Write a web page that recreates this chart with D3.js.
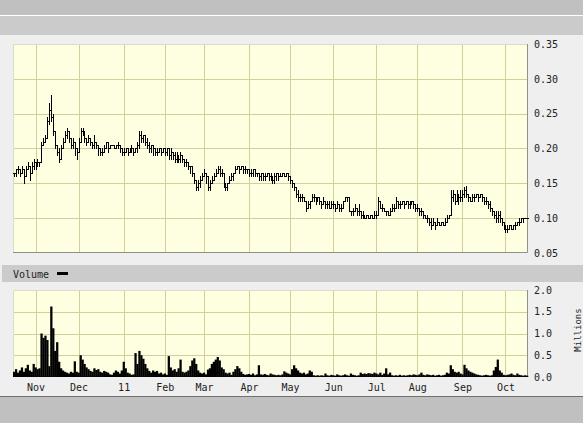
<!DOCTYPE html>
<html><head><meta charset="utf-8">
<script src="https://cdnjs.cloudflare.com/ajax/libs/d3/7.8.5/d3.min.js"></script>
<style>
body{margin:0;background:#c0c0c0;}
svg{display:block;font-family:"DejaVu Sans Mono",monospace;}
</style></head><body>
<script>
// daily bars, weekdays from 15 Oct 2010
var startDate = new Date(2010, 9, 15);

var closes = [
 .165,.17,.17,.165,.17,.16,.17,.175,.165,.175,.18,
 .175,.18,.18,.205,.21,.215,.24,.255,.245,.225,.205,.195,.185,.2,.21,.22,.225,.215,.205,.21,.2,.195,
 .21,.225,.225,.215,.21,.215,.21,.205,.21,.205,.2,.195,.195,.2,.21,.2,.205,.205,.2,.205,.205,.2,.195,
 .195,.2,.195,.195,.2,.195,.2,.205,.22,.215,.22,.21,.205,.2,.205,.2,.195,.195,.2,.195,.2,
 .195,.2,.19,.195,.19,.185,.19,.185,.19,.185,.18,.18,.175,.175,.165,.155,.145,.15,.155,.16,
 .165,.16,.145,.15,.155,.16,.165,.17,.165,.165,.15,.145,.15,.155,.16,.165,.17,.175,.17,.175,.17,.17,.17,
 .165,.165,.17,.165,.165,.16,.165,.16,.16,.165,.16,.16,.155,.16,.165,.16,.16,.165,.16,.165,.16,
 .155,.15,.145,.135,.13,.13,.13,.125,.115,.12,.125,.13,.13,.125,.13,.125,.12,.125,.12,.12,.115,.12,
 .12,.115,.12,.115,.115,.125,.13,.13,.11,.11,.11,.115,.11,.11,.105,.105,.1,.105,.1,.105,.1,.105,
 .105,.125,.115,.115,.11,.11,.105,.11,.115,.115,.125,.12,.12,.125,.12,.125,.12,.12,.125,.12,.115,
 .115,.11,.11,.105,.1,.1,.095,.09,.095,.09,.095,.09,.095,.09,.095,.1,.105,.13,.135,.125,.135,.13,.13,
 .135,.14,.135,.13,.125,.13,.13,.135,.13,.135,.13,.125,.125,.12,.115,.11,.105,.1,.105,.1,.095,.09,
 .085,.085,.09,.085,.09,.09,.095,.095,.1,.1,.1,.1
];
var highs = [
 .165,.17,.175,.17,.175,.17,.175,.18,.175,.18,.185,
 .18,.185,.18,.21,.215,.22,.245,.265,.277,.25,.225,.205,.2,.205,.215,.225,.23,.225,.215,.215,.21,.2,
 .215,.23,.23,.225,.215,.22,.215,.21,.22,.21,.205,.2,.2,.205,.21,.205,.205,.205,.205,.205,.21,.205,.2,
 .2,.2,.2,.2,.205,.2,.2,.21,.225,.225,.22,.22,.215,.21,.205,.205,.2,.2,.2,.2,.2,
 .2,.2,.2,.2,.195,.195,.195,.19,.195,.19,.185,.185,.18,.175,.17,.16,.155,.155,.16,.165,
 .17,.165,.155,.155,.16,.165,.17,.175,.175,.17,.16,.15,.15,.16,.165,.165,.175,.175,.175,.175,.175,.175,.17,
 .17,.17,.17,.17,.165,.165,.165,.165,.165,.165,.165,.165,.16,.165,.165,.165,.165,.165,.165,.165,.165,
 .16,.155,.15,.145,.14,.135,.135,.13,.125,.125,.125,.135,.135,.13,.13,.13,.125,.13,.125,.125,.125,.125,
 .125,.12,.125,.12,.12,.125,.13,.13,.115,.11,.115,.12,.115,.12,.11,.11,.105,.105,.105,.105,.105,.11,
 .11,.13,.125,.12,.115,.11,.11,.115,.12,.12,.13,.125,.125,.125,.125,.125,.125,.125,.125,.125,.12,
 .12,.115,.115,.11,.105,.105,.1,.1,.1,.095,.1,.095,.095,.095,.1,.105,.105,.14,.14,.135,.14,.135,.14,
 .14,.145,.146,.135,.13,.135,.135,.135,.135,.135,.135,.13,.13,.125,.125,.115,.11,.11,.11,.11,.1,.095,
 .09,.09,.09,.09,.09,.095,.095,.1,.1,.1,.1,.1
];
var lows = [
 .16,.16,.165,.16,.165,.15,.165,.17,.155,.17,.17,
 .17,.175,.175,.18,.205,.21,.215,.235,.24,.22,.2,.19,.18,.185,.2,.21,.215,.21,.2,.2,.19,.185,
 .195,.21,.22,.21,.205,.21,.205,.2,.2,.2,.19,.19,.19,.195,.2,.195,.2,.205,.2,.2,.2,.195,.19,
 .19,.195,.19,.195,.195,.19,.195,.195,.2,.21,.21,.205,.2,.195,.195,.19,.19,.19,.195,.19,.195,
 .19,.19,.185,.185,.185,.18,.18,.18,.18,.18,.175,.175,.17,.165,.16,.15,.14,.14,.145,.155,
 .16,.15,.14,.14,.15,.155,.16,.165,.16,.16,.145,.14,.14,.15,.155,.155,.165,.17,.165,.17,.165,.165,.165,
 .16,.16,.16,.16,.16,.155,.155,.155,.155,.16,.155,.155,.15,.15,.155,.155,.16,.16,.16,.16,.155,
 .15,.145,.14,.13,.125,.125,.125,.125,.11,.115,.115,.125,.125,.12,.125,.12,.115,.12,.115,.115,.115,.115,
 .115,.11,.115,.11,.11,.125,.13,.125,.11,.105,.105,.11,.105,.105,.1,.1,.1,.1,.1,.1,.1,.1,
 .1,.11,.115,.11,.11,.105,.105,.105,.11,.11,.115,.115,.115,.12,.115,.12,.115,.115,.12,.115,.11,
 .11,.105,.105,.1,.1,.095,.09,.085,.09,.085,.09,.09,.09,.09,.09,.095,.1,.105,.125,.12,.125,.12,.125,
 .125,.13,.13,.125,.125,.125,.125,.13,.125,.13,.125,.12,.12,.115,.11,.105,.1,.095,.095,.095,.09,.085,
 .08,.08,.085,.085,.085,.085,.09,.09,.095,.095,.1,.1
];
// millions of shares
var volumes = [
 .12,.18,.1,.15,.22,.12,.2,.28,.15,.12,
 .3,.22,.18,.2,1.0,.9,.95,.85,.25,1.62,
 1.12,.6,.8,.35,.2,.15,.12,.1,.08,.12,
 .1,.36,.12,.1,.5,.4,.3,.22,.18,.14,
 .12,.2,.16,.18,.12,.1,.14,.12,.1,.06,
 .05,.1,.15,.12,.08,.15,.35,.2,.1,.08,
 .05,.06,.55,.3,.6,.5,.42,.3,.2,.14,
 .1,.15,.12,.14,.08,.1,.06,.08,.05,.48,
 .22,.15,.18,.12,.2,.4,.12,.1,.12,.15,
 .25,.38,.43,.3,.15,.1,.08,.1,.06,.17,
 .2,.3,.35,.4,.46,.38,.22,.18,.1,.08,
 .1,.05,.12,.18,.25,.2,.12,.07,.05,.06,
 .07,.05,.08,.04,.06,.27,.06,.05,.07,.05,
 .04,.08,.06,.05,.04,.05,.04,.06,.13,.1,
 .08,.06,.18,.27,.2,.15,.1,.08,.1,.06,
 .08,.15,.12,.04,.03,.04,.03,.04,.03,.08,
 .04,.03,.05,.04,.03,.06,.04,.03,.04,.06,
 .04,.03,.08,.05,.04,.03,.04,.1,.07,.08,
 .07,.09,.08,.07,.1,.08,.06,.1,.05,.08,
 .2,.06,.1,.04,.03,.04,.03,.05,.03,.04,
 .03,.04,.05,.04,.06,.05,.04,.06,.1,.05,
 .04,.06,.05,.04,.05,.03,.04,.05,.03,.04,
 .05,.1,.08,.27,.18,.12,.1,.12,.08,.06,
 .28,.2,.15,.12,.1,.08,.06,.05,.04,.03,
 .04,.05,.04,.03,.04,.15,.23,.4,.15,.1,
 .05,.04,.05,.06,.08,.05,.04,.08,.05,.04,
 .03,.04,.03
];
var monthLabels = ["Nov","Dec","11","Feb","Mar","Apr","May","Jun","Jul","Aug","Sep","Oct"];
var priceTicks = [0.05,0.10,0.15,0.20,0.25,0.30,0.35];
var volTicks = [0,0.5,1.0,1.5,2.0];

var W = 583, H = 423;
var n = closes.length;

// trading dates (weekdays) -> first bar of each month
var dates = [];
var d = new Date(startDate);
while (dates.length < n) {
  if (d.getDay() != 0 && d.getDay() != 6) dates.push(new Date(d));
  d.setDate(d.getDate() + 1);
}
var monthStarts = [];
for (var i = 1; i < n; i++) {
  if (dates[i].getMonth() != dates[i-1].getMonth()) monthStarts.push(i);
}

var svg = d3.select("body").append("svg")
    .attr("width", W)
    .attr("height", H);

// frame
svg.append("rect").attr("x",0).attr("y",0).attr("width",W).attr("height",H).attr("fill","#c0c0c0");
svg.append("rect").attr("x",0).attr("y",16).attr("width",W).attr("height",380).attr("fill","#efefef");
svg.append("rect").attr("x",0).attr("y",16).attr("width",W).attr("height",19).attr("fill","#cbcbcb");
svg.append("line").attr("x1",0).attr("x2",W).attr("y1",15.5).attr("y2",15.5).attr("stroke","#fff");
svg.append("line").attr("x1",0).attr("x2",W).attr("y1",396.5).attr("y2",396.5).attr("stroke","#707070");
svg.append("rect").attr("x",2).attr("y",265).attr("width",W-2).attr("height",17).attr("fill","#cbcbcb");

var L = 13, R = 528;
var x = d3.scaleLinear().domain([-0.5, n - 0.5]).range([L, R]);
var yP = d3.scaleLinear().domain([0.05, 0.35]).range([253, 44]);
var yV = d3.scaleLinear().domain([0, 2]).range([377, 290]);

var gridColor = "#d3cf9c";

function panel(y0, y1, yScale, hTicks) {
  var g = svg.append("g");
  g.append("rect").attr("x",L).attr("y",y0).attr("width",R-L).attr("height",y1-y0).attr("fill","#fefee1");
  g.selectAll(".hg").data(hTicks).enter().append("line")
    .attr("x1",L).attr("x2",R)
    .attr("y1",function(v){ return Math.round(yScale(v)) + 0.5; })
    .attr("y2",function(v){ return Math.round(yScale(v)) + 0.5; })
    .attr("stroke",gridColor);
  g.selectAll(".vg").data(monthStarts).enter().append("line")
    .attr("y1",y0).attr("y2",y1)
    .attr("x1",function(i){ return Math.round(x(i)) + 0.5; })
    .attr("x2",function(i){ return Math.round(x(i)) + 0.5; })
    .attr("stroke",gridColor);
  g.append("path").attr("d","M"+(L+0.5)+","+(y1)+"V"+(y0+0.5)+"H"+R)
    .attr("fill","none").attr("stroke","#dcdcc4");
  g.append("path").attr("d","M"+(L)+","+(y1-0.5)+"H"+(R-0.5)+"V"+y0)
    .attr("fill","none").attr("stroke","#909090");
  return g;
}

panel(44, 253, yP, [0.10,0.15,0.20,0.25,0.30]);
panel(290, 377, yV, [0.5,1.0,1.5]);

// price bars (open = previous close)
var p = "";
for (var i = 0; i < n; i++) {
  var xc = Math.round(x(i)) + 0.5;
  var o = i > 0 ? closes[i-1] : closes[i];
  var hi = Math.max(highs[i], closes[i], o), lo = Math.min(lows[i], closes[i], o);
  var yh = Math.round(yP(hi)), yl = Math.round(yP(lo));
  p += "M"+xc+","+yh+"V"+(yl+1);
  p += "M"+(xc-1.5)+","+(Math.round(yP(o))+0.5)+"H"+xc;
  p += "M"+xc+","+(Math.round(yP(closes[i]))+0.5)+"H"+(xc+1.5);
}
svg.append("path").attr("d",p).attr("fill","none").attr("stroke","#000").attr("stroke-width",1);

// volume
var step = x(1) - x(0);
svg.append("g").selectAll("rect").data(volumes).enter().append("rect")
  .attr("x",function(v,i){ return x(i) - step/2; })
  .attr("width",step + 0.3)
  .attr("y",function(v){ return yV(v); })
  .attr("height",function(v){ return yV(0) - yV(v); })
  .attr("fill","#000");

// axes
var pa = svg.append("g").attr("transform","translate(531,0)")
  .call(d3.axisRight(yP).tickValues(priceTicks).tickSize(0).tickPadding(3).tickFormat(d3.format(".2f")));
var va = svg.append("g").attr("transform","translate(531,0)")
  .call(d3.axisRight(yV).tickValues(volTicks).tickSize(0).tickPadding(3).tickFormat(d3.format(".1f")));
var ma = svg.append("g").attr("transform","translate(0,380)")
  .call(d3.axisBottom(x).tickValues(monthStarts).tickSize(0).tickPadding(4)
    .tickFormat(function(v,k){ return monthLabels[k]; }));
[pa, va, ma].forEach(function(a){
  a.select(".domain").remove();
  a.selectAll("text").attr("font-family","DejaVu Sans Mono").attr("font-size","10px").attr("fill","#222");
});

svg.append("text").attr("x",13).attr("y",278).attr("font-size","10px").attr("fill","#222").text("Volume");
svg.append("rect").attr("x",57).attr("y",272).attr("width",11).attr("height",3).attr("fill","#000");
svg.append("text").attr("transform","translate(581,330) rotate(-90)")
  .attr("text-anchor","middle").attr("font-size","9px").attr("fill","#222").text("Millions");
</script></body></html>
